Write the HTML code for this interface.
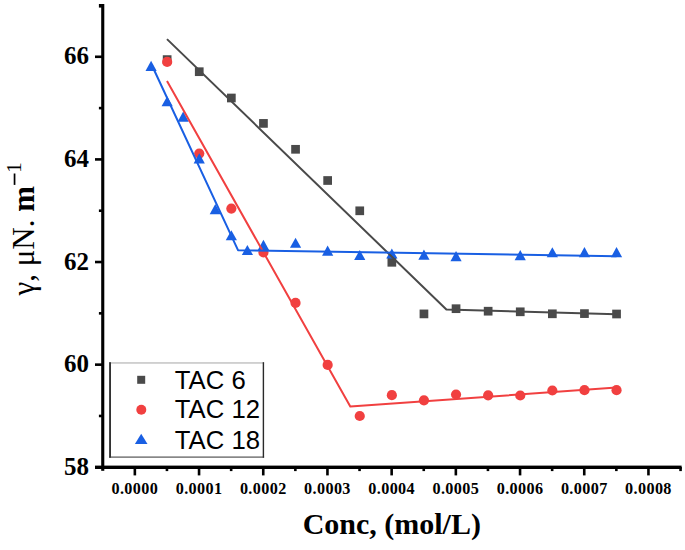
<!DOCTYPE html>
<html><head><meta charset="utf-8"><style>
html,body{margin:0;padding:0;background:#fff;}
svg{display:block;}
.yl{font-family:"Liberation Serif",serif;font-weight:bold;font-size:26px;text-anchor:end;fill:#000;}
.xl{font-family:"Liberation Serif",serif;font-weight:bold;font-size:17.5px;letter-spacing:0.4px;text-anchor:middle;fill:#000;}
.lg{font-family:"Liberation Sans",sans-serif;font-size:25.7px;fill:#000;}
.xt{font-family:"Liberation Serif",serif;font-weight:bold;font-size:30px;text-anchor:middle;fill:#000;}
.yt{font-family:"Liberation Serif",serif;font-size:31px;fill:#000;}
</style></head><body>
<svg width="685" height="550" viewBox="0 0 685 550">
<rect x="101.2" y="4" width="3.1" height="466.8" fill="#000"/>
<rect x="95" y="465.6" width="586.6" height="3.4" fill="#000"/>
<rect x="95" y="363.35" width="7" height="2.6" fill="#000"/>
<rect x="95" y="260.73" width="7" height="2.6" fill="#000"/>
<rect x="95" y="158.11" width="7" height="2.6" fill="#000"/>
<rect x="95" y="55.49" width="7" height="2.6" fill="#000"/>
<rect x="98.9" y="414.66" width="3" height="2.6" fill="#000"/>
<rect x="98.9" y="312.04" width="3" height="2.6" fill="#000"/>
<rect x="98.9" y="209.42" width="3" height="2.6" fill="#000"/>
<rect x="98.9" y="106.80" width="3" height="2.6" fill="#000"/>
<rect x="98.9" y="4" width="3" height="3.6" fill="#000"/>
<rect x="133.55" y="467" width="2.6" height="8.4" fill="#000"/>
<rect x="197.75" y="467" width="2.6" height="8.4" fill="#000"/>
<rect x="261.95" y="467" width="2.6" height="8.4" fill="#000"/>
<rect x="326.15" y="467" width="2.6" height="8.4" fill="#000"/>
<rect x="390.35" y="467" width="2.6" height="8.4" fill="#000"/>
<rect x="454.55" y="467" width="2.6" height="8.4" fill="#000"/>
<rect x="518.75" y="467" width="2.6" height="8.4" fill="#000"/>
<rect x="582.95" y="467" width="2.6" height="8.4" fill="#000"/>
<rect x="647.15" y="467" width="2.6" height="8.4" fill="#000"/>
<rect x="165.65" y="467" width="2.6" height="4.1" fill="#000"/>
<rect x="229.85" y="467" width="2.6" height="4.1" fill="#000"/>
<rect x="294.05" y="467" width="2.6" height="4.1" fill="#000"/>
<rect x="358.25" y="467" width="2.6" height="4.1" fill="#000"/>
<rect x="422.45" y="467" width="2.6" height="4.1" fill="#000"/>
<rect x="486.65" y="467" width="2.6" height="4.1" fill="#000"/>
<rect x="550.85" y="467" width="2.6" height="4.1" fill="#000"/>
<rect x="615.05" y="467" width="2.6" height="4.1" fill="#000"/>
<rect x="679.25" y="467" width="2.6" height="4.1" fill="#000"/>
<text transform="translate(88.9,474.77) scale(0.96,1)" class="yl">58</text>
<text transform="translate(88.9,372.15) scale(0.96,1)" class="yl">60</text>
<text transform="translate(88.9,269.53) scale(0.96,1)" class="yl">62</text>
<text transform="translate(88.9,166.91) scale(0.96,1)" class="yl">64</text>
<text transform="translate(88.9,64.29) scale(0.96,1)" class="yl">66</text>
<text transform="translate(134.85,493.6) scale(0.925,1)" class="xl">0.0000</text>
<text transform="translate(199.05,493.6) scale(0.925,1)" class="xl">0.0001</text>
<text transform="translate(263.25,493.6) scale(0.925,1)" class="xl">0.0002</text>
<text transform="translate(327.45,493.6) scale(0.925,1)" class="xl">0.0003</text>
<text transform="translate(391.65,493.6) scale(0.925,1)" class="xl">0.0004</text>
<text transform="translate(455.85,493.6) scale(0.925,1)" class="xl">0.0005</text>
<text transform="translate(520.05,493.6) scale(0.925,1)" class="xl">0.0006</text>
<text transform="translate(584.25,493.6) scale(0.925,1)" class="xl">0.0007</text>
<text transform="translate(648.45,493.6) scale(0.925,1)" class="xl">0.0008</text>
<rect x="162.80" y="55.25" width="8.7" height="8.7" fill="#4a4a4a"/>
<rect x="194.90" y="67.35" width="8.7" height="8.7" fill="#4a4a4a"/>
<rect x="227.00" y="93.65" width="8.7" height="8.7" fill="#4a4a4a"/>
<rect x="259.10" y="119.05" width="8.7" height="8.7" fill="#4a4a4a"/>
<rect x="291.20" y="144.95" width="8.7" height="8.7" fill="#4a4a4a"/>
<rect x="323.30" y="176.15" width="8.7" height="8.7" fill="#4a4a4a"/>
<rect x="355.40" y="206.45" width="8.7" height="8.7" fill="#4a4a4a"/>
<rect x="387.50" y="257.95" width="8.7" height="8.7" fill="#4a4a4a"/>
<rect x="419.60" y="309.55" width="8.7" height="8.7" fill="#4a4a4a"/>
<rect x="451.70" y="304.35" width="8.7" height="8.7" fill="#4a4a4a"/>
<rect x="483.80" y="306.85" width="8.7" height="8.7" fill="#4a4a4a"/>
<rect x="515.90" y="307.45" width="8.7" height="8.7" fill="#4a4a4a"/>
<rect x="548.00" y="309.45" width="8.7" height="8.7" fill="#4a4a4a"/>
<rect x="580.10" y="309.25" width="8.7" height="8.7" fill="#4a4a4a"/>
<rect x="612.20" y="309.65" width="8.7" height="8.7" fill="#4a4a4a"/>
<circle cx="167.15" cy="61.90" r="5.1" fill="#f14040"/>
<circle cx="199.25" cy="153.60" r="5.1" fill="#f14040"/>
<circle cx="231.35" cy="208.60" r="5.1" fill="#f14040"/>
<circle cx="263.45" cy="252.50" r="5.1" fill="#f14040"/>
<circle cx="295.55" cy="302.90" r="5.1" fill="#f14040"/>
<circle cx="327.65" cy="364.90" r="5.1" fill="#f14040"/>
<circle cx="359.75" cy="416.00" r="5.1" fill="#f14040"/>
<circle cx="391.85" cy="395.20" r="5.1" fill="#f14040"/>
<circle cx="423.95" cy="400.30" r="5.1" fill="#f14040"/>
<circle cx="456.05" cy="394.50" r="5.1" fill="#f14040"/>
<circle cx="488.15" cy="395.30" r="5.1" fill="#f14040"/>
<circle cx="520.25" cy="395.50" r="5.1" fill="#f14040"/>
<circle cx="552.35" cy="390.50" r="5.1" fill="#f14040"/>
<circle cx="584.45" cy="390.20" r="5.1" fill="#f14040"/>
<circle cx="616.55" cy="390.20" r="5.1" fill="#f14040"/>
<path d="M151.10 60.85L156.70 71.05L145.50 71.05Z" fill="#195fe3"/>
<path d="M167.15 96.15L172.75 106.35L161.55 106.35Z" fill="#195fe3"/>
<path d="M183.20 111.60L188.80 121.80L177.60 121.80Z" fill="#195fe3"/>
<path d="M199.25 153.25L204.85 163.45L193.65 163.45Z" fill="#195fe3"/>
<path d="M215.30 203.95L220.90 214.15L209.70 214.15Z" fill="#195fe3"/>
<path d="M231.35 230.15L236.95 240.35L225.75 240.35Z" fill="#195fe3"/>
<path d="M247.40 244.90L253.00 255.10L241.80 255.10Z" fill="#195fe3"/>
<path d="M263.45 239.70L269.05 249.90L257.85 249.90Z" fill="#195fe3"/>
<path d="M295.55 237.65L301.15 247.85L289.95 247.85Z" fill="#195fe3"/>
<path d="M327.65 245.45L333.25 255.65L322.05 255.65Z" fill="#195fe3"/>
<path d="M359.75 249.90L365.35 260.10L354.15 260.10Z" fill="#195fe3"/>
<path d="M391.85 248.40L397.45 258.60L386.25 258.60Z" fill="#195fe3"/>
<path d="M423.95 249.60L429.55 259.80L418.35 259.80Z" fill="#195fe3"/>
<path d="M456.05 251.00L461.65 261.20L450.45 261.20Z" fill="#195fe3"/>
<path d="M520.25 250.10L525.85 260.30L514.65 260.30Z" fill="#195fe3"/>
<path d="M552.35 247.15L557.95 257.35L546.75 257.35Z" fill="#195fe3"/>
<path d="M584.45 247.10L590.05 257.30L578.85 257.30Z" fill="#195fe3"/>
<path d="M616.55 247.10L622.15 257.30L610.95 257.30Z" fill="#195fe3"/>
<polyline points="167,39.1 446.4,309.5 616.4,314.3" fill="none" stroke="#4a4a4a" stroke-width="2.0" stroke-linejoin="round"/>
<polyline points="167,81 350.3,406.6 616.4,387.5" fill="none" stroke="#f14040" stroke-width="2.0" stroke-linejoin="round"/>
<polyline points="152,65.5 238,250.2 616.5,256.3" fill="none" stroke="#195fe3" stroke-width="2.0" stroke-linejoin="round"/>
<rect x="109.1" y="362.2" width="155" height="95.5" fill="#fff"/>
<rect x="109.1" y="362.2" width="155" height="1.5" fill="#c4c4c4"/>
<rect x="109.1" y="456.5" width="155" height="1.2" fill="#555"/>
<rect x="109.1" y="362.2" width="1.9" height="95.5" fill="#333"/>
<rect x="262.7" y="362.2" width="1.4" height="95.5" fill="#2a2a2a"/>
<rect x="137.2" y="375.8" width="8" height="8" fill="#4a4a4a"/>
<circle cx="141.3" cy="409.8" r="5" fill="#f14040"/>
<path d="M141.2 433.8L147.5 443.9L134.9 443.9Z" fill="#195fe3"/>
<text x="174.8" y="388.5" class="lg">TAC 6</text>
<text x="174.8" y="418.4" class="lg">TAC 12</text>
<text x="174.8" y="449.3" class="lg">TAC 18</text>
<text x="391.8" y="534.3" class="xt">Conc, (mol/L)</text>
<text transform="translate(33.6,295.5) rotate(-90)" class="yt">&#947;, &#956;N. <tspan font-weight="bold">m</tspan></text>
<rect x="13.7" y="173.5" width="1.7" height="11.4" fill="#000"/>
<text transform="translate(33.6,295.5) rotate(-90)" x="122.5" y="-12.9" class="yt" style="font-size:21.5px">1</text>
</svg>
</body></html>
